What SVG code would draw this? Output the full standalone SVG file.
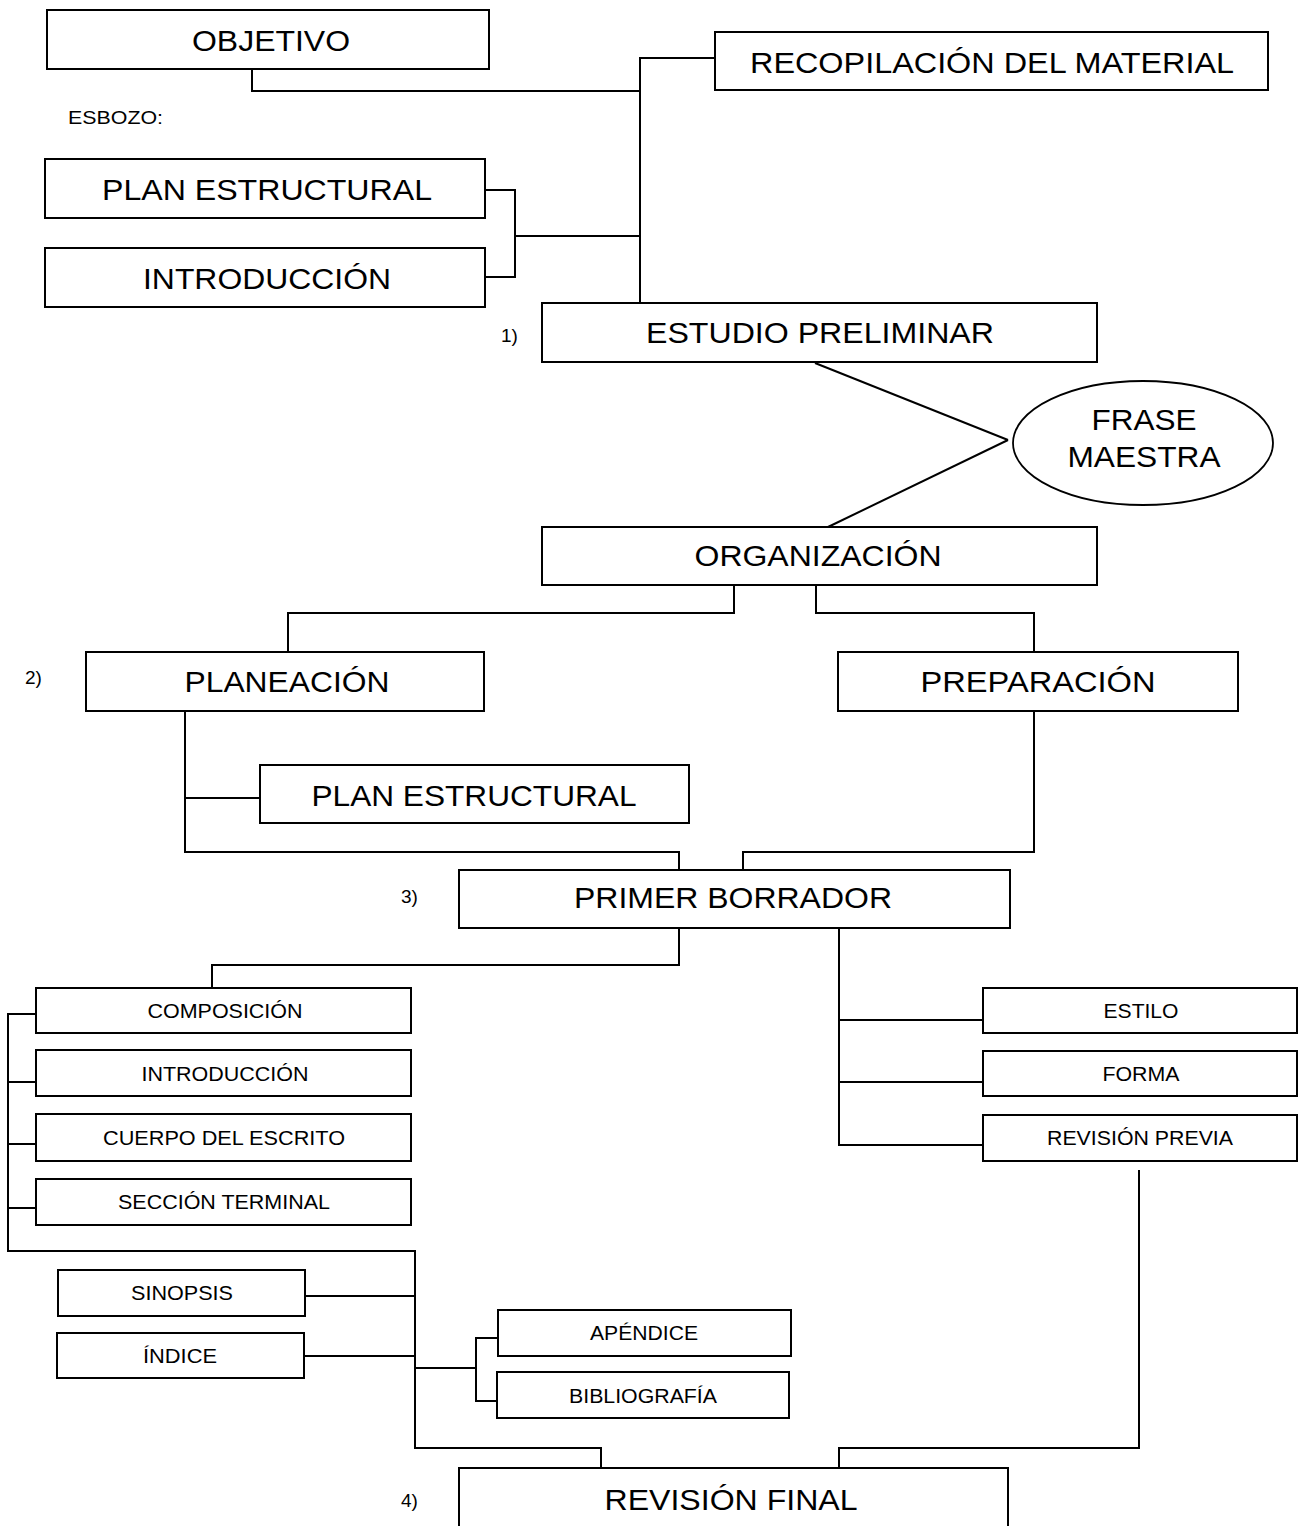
<svg xmlns="http://www.w3.org/2000/svg" width="1307" height="1526" viewBox="0 0 1307 1526">
<style>
.box{fill:#fff;stroke:#000;stroke-width:2}
.ell{fill:#fff;stroke:#000;stroke-width:1.8}
.t{font-family:"Liberation Sans",Arial,sans-serif;font-size:30px;fill:#000;text-anchor:middle}
.s{font-family:"Liberation Sans",Arial,sans-serif;font-size:20px;fill:#000;text-anchor:middle}
.n{font-family:"Liberation Sans",Arial,sans-serif;font-size:19px;fill:#000}
.c{fill:none;stroke:#000;stroke-width:2}
</style>
<rect width="1307" height="1526" fill="#fff"/>
<g id="connectors">
<polyline class="c" points="252,69 252,91 640,91"/>
<polyline class="c" points="715,58 640,58 640,303"/>
<polyline class="c" points="485,190 515,190 515,277 485,277"/>
<line class="c" x1="515" y1="236" x2="640" y2="236"/>
<line class="c" x1="815" y1="363" x2="1008" y2="440"/>
<line class="c" x1="1008" y1="440" x2="828" y2="527"/>
<polyline class="c" points="734,585 734,613 288,613 288,652"/>
<polyline class="c" points="816,585 816,613 1034,613 1034,652"/>
<polyline class="c" points="185,711 185,852 679,852 679,870"/>
<line class="c" x1="185" y1="798" x2="260" y2="798"/>
<polyline class="c" points="1034,711 1034,852 743,852 743,870"/>
<polyline class="c" points="679,928 679,965 212,965 212,988"/>
<polyline class="c" points="839,928 839,1145 983,1145"/>
<line class="c" x1="839" y1="1020" x2="983" y2="1020"/>
<line class="c" x1="839" y1="1082" x2="983" y2="1082"/>
<polyline class="c" points="36,1014 8,1014 8,1251 415,1251 415,1448 601,1448 601,1468"/>
<line class="c" x1="8" y1="1082" x2="36" y2="1082"/>
<line class="c" x1="8" y1="1144" x2="36" y2="1144"/>
<line class="c" x1="8" y1="1208" x2="36" y2="1208"/>
<line class="c" x1="305" y1="1296" x2="415" y2="1296"/>
<line class="c" x1="304" y1="1356" x2="415" y2="1356"/>
<line class="c" x1="415" y1="1368" x2="476" y2="1368"/>
<polyline class="c" points="498,1338 476,1338 476,1401 497,1401"/>
<polyline class="c" points="1139,1170 1139,1448 839,1448 839,1468"/>
</g>
<text class="n" x="68" y="124" font-size="20" textLength="95" lengthAdjust="spacingAndGlyphs">ESBOZO:</text>
<text class="n" x="501" y="342">1)</text>
<text class="n" x="25" y="684">2)</text>
<text class="n" x="401" y="903">3)</text>
<text class="n" x="401" y="1507">4)</text>
<g id="objetivo"><rect class="box" x="47" y="10" width="442" height="59"/><text class="t" x="271" y="51" textLength="158" lengthAdjust="spacingAndGlyphs">OBJETIVO</text></g>
<g id="recopilacion"><rect class="box" x="715" y="32" width="553" height="58"/><text class="t" x="992" y="73" textLength="484" lengthAdjust="spacingAndGlyphs">RECOPILACIÓN DEL MATERIAL</text></g>
<g id="plan-estructural-1"><rect class="box" x="45" y="159" width="440" height="59"/><text class="t" x="267" y="200" textLength="330" lengthAdjust="spacingAndGlyphs">PLAN ESTRUCTURAL</text></g>
<g id="introduccion-1"><rect class="box" x="45" y="248" width="440" height="59"/><text class="t" x="267" y="289" textLength="248" lengthAdjust="spacingAndGlyphs">INTRODUCCIÓN</text></g>
<g id="estudio-preliminar"><rect class="box" x="542" y="303" width="555" height="59"/><text class="t" x="820" y="343" textLength="348" lengthAdjust="spacingAndGlyphs">ESTUDIO PRELIMINAR</text></g>
<g id="frase-maestra"><ellipse class="ell" cx="1143" cy="443" rx="130" ry="62"/><text class="t" x="1144" y="430" textLength="105" lengthAdjust="spacingAndGlyphs">FRASE</text><text class="t" x="1144" y="467" textLength="153" lengthAdjust="spacingAndGlyphs">MAESTRA</text></g>
<g id="organizacion"><rect class="box" x="542" y="527" width="555" height="58"/><text class="t" x="818" y="566" textLength="247" lengthAdjust="spacingAndGlyphs">ORGANIZACIÓN</text></g>
<g id="planeacion"><rect class="box" x="86" y="652" width="398" height="59"/><text class="t" x="287" y="692" textLength="205" lengthAdjust="spacingAndGlyphs">PLANEACIÓN</text></g>
<g id="preparacion"><rect class="box" x="838" y="652" width="400" height="59"/><text class="t" x="1038" y="692" textLength="235" lengthAdjust="spacingAndGlyphs">PREPARACIÓN</text></g>
<g id="plan-estructural-2"><rect class="box" x="260" y="765" width="429" height="58"/><text class="t" x="474" y="806" textLength="325" lengthAdjust="spacingAndGlyphs">PLAN ESTRUCTURAL</text></g>
<g id="primer-borrador"><rect class="box" x="459" y="870" width="551" height="58"/><text class="t" x="733" y="908" textLength="318" lengthAdjust="spacingAndGlyphs">PRIMER BORRADOR</text></g>
<g id="composicion"><rect class="box" x="36" y="988" width="375" height="45"/><text class="s" x="225" y="1018" textLength="155" lengthAdjust="spacingAndGlyphs">COMPOSICIÓN</text></g>
<g id="introduccion-2"><rect class="box" x="36" y="1050" width="375" height="46"/><text class="s" x="225" y="1081" textLength="167" lengthAdjust="spacingAndGlyphs">INTRODUCCIÓN</text></g>
<g id="cuerpo"><rect class="box" x="36" y="1114" width="375" height="47"/><text class="s" x="224" y="1145" textLength="242" lengthAdjust="spacingAndGlyphs">CUERPO DEL ESCRITO</text></g>
<g id="seccion-terminal"><rect class="box" x="36" y="1179" width="375" height="46"/><text class="s" x="224" y="1209" textLength="212" lengthAdjust="spacingAndGlyphs">SECCIÓN TERMINAL</text></g>
<g id="estilo"><rect class="box" x="983" y="988" width="314" height="45"/><text class="s" x="1141" y="1018" textLength="75" lengthAdjust="spacingAndGlyphs">ESTILO</text></g>
<g id="forma"><rect class="box" x="983" y="1051" width="314" height="45"/><text class="s" x="1141" y="1081" textLength="77" lengthAdjust="spacingAndGlyphs">FORMA</text></g>
<g id="revision-previa"><rect class="box" x="983" y="1115" width="314" height="46"/><text class="s" x="1140" y="1145" textLength="186" lengthAdjust="spacingAndGlyphs">REVISIÓN PREVIA</text></g>
<g id="sinopsis"><rect class="box" x="58" y="1270" width="247" height="46"/><text class="s" x="182" y="1300" textLength="102" lengthAdjust="spacingAndGlyphs">SINOPSIS</text></g>
<g id="indice"><rect class="box" x="57" y="1333" width="247" height="45"/><text class="s" x="180" y="1363" textLength="74" lengthAdjust="spacingAndGlyphs">ÍNDICE</text></g>
<g id="apendice"><rect class="box" x="498" y="1310" width="293" height="46"/><text class="s" x="644" y="1340" textLength="108" lengthAdjust="spacingAndGlyphs">APÉNDICE</text></g>
<g id="bibliografia"><rect class="box" x="497" y="1372" width="292" height="46"/><text class="s" x="643" y="1403" textLength="148" lengthAdjust="spacingAndGlyphs">BIBLIOGRAFÍA</text></g>
<g id="revision-final"><rect class="box" x="459" y="1468" width="549" height="70"/><text class="t" x="731" y="1510" textLength="253" lengthAdjust="spacingAndGlyphs">REVISIÓN FINAL</text></g>
</svg>
